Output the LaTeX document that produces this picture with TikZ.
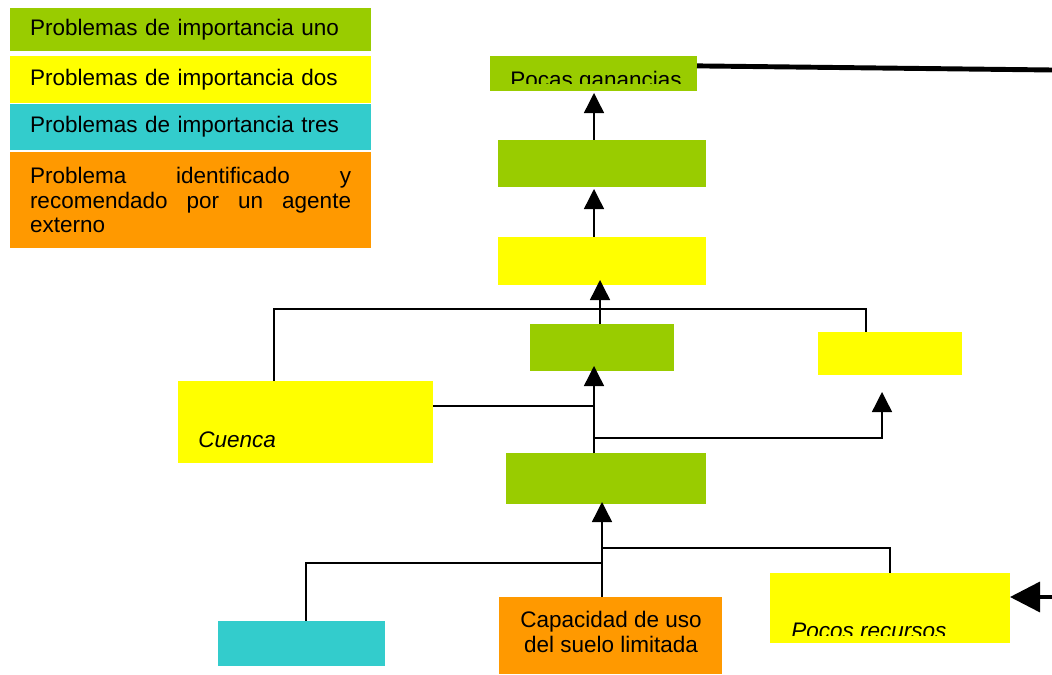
\documentclass[tikz,border=0pt]{standalone}
\usepackage{fontspec}
\setmainfont{Liberation Sans}
\usetikzlibrary{arrows.meta, fit}
\definecolor{uno}{RGB}{153,204,0}
\definecolor{dos}{RGB}{255,255,0}
\definecolor{tres}{RGB}{51,204,204}
\definecolor{ext}{RGB}{255,153,0}

\begin{document}
\begin{tikzpicture}[x=0.025cm, y=-0.025cm,
  box/.style={inner sep=0pt, outer sep=0pt},
  legend/.style={anchor=north west, inner xsep=0.5cm, inner ysep=0pt, outer sep=0pt, text width=8.025cm, align=left, font=\fontsize{16}{17.5}\selectfont},
  txt/.style={inner sep=0pt, font=\fontsize{16}{17.5}\selectfont},
  link/.style={line width=1pt},
  up/.style={link, -{Triangle[width=0.5cm, length=0.5cm]}},
  heavy/.style={line width=3.5pt}]
\useasboundingbox (0,0) rectangle (1052,675);

% legend
\node[legend, fill=uno, minimum height=1.075cm] (leguno) at (10,8) {Problemas de importancia uno};
\node[legend, fill=dos, minimum height=1.175cm] (legdos) at (10,56) {Problemas de importancia dos};
\node[legend, fill=tres, minimum height=1.15cm] (legtres) at (10,104) {Problemas de importancia tres};
\node[legend, fill=ext, minimum height=2.4cm] (legext) at (10,152) {Problema\hfill identificado\hfill y\\recomendado\hfill por\hfill un\hfill agente\\externo};

% problem boxes
\node[box, fill=uno, fit={(490,56) (697,91)}] (ganancias) {};
\node[box, fill=uno, fit={(498,140) (706,187)}] (g2) {};
\node[box, fill=dos, fit={(498,237) (706,285)}] (y3) {};
\node[box, fill=uno, fit={(530,324) (674,371)}] (g4) {};
\node[box, fill=dos, fit={(818,332) (962,375)}] (yright) {};
\node[box, fill=dos, fit={(178,381) (433,463)}] (cuenca) {};
\node[box, fill=uno, fit={(506,453) (706,504)}] (g5) {};
\node[box, fill=tres, fit={(218,621) (385,666)}] (teal) {};
\node[box, fill=ext, fit={(499,597) (722,674)}] (capacidad) {};
\node[box, fill=dos, fit={(770,573) (1010,643)}] (recursos) {};

\begin{scope}
\clip (490,56) rectangle (697,84);
\node[txt, anchor=base west] (gtexto) at (510,88) {Pocas ganancias};
\end{scope}
\node[txt, anchor=base west, font=\fontsize{16}{17.5}\selectfont\itshape] (ctexto) at (198,447) {Cuenca};
\node[txt, align=center] (ktexto) at (611,632) {Capacidad de uso\\del suelo limitada};
\begin{scope}
\clip (770,573) rectangle (1010,635);
\node[txt, anchor=base west, font=\fontsize{16}{17.5}\selectfont\itshape] (rtexto) at (791,638) {Pocos recursos};
\end{scope}

% connectors
\coordinate (va) at (594,0);
\coordinate (vb) at (600,0);
\coordinate (vc) at (602,0);
\coordinate (cl) at (274,309);
\coordinate (cr) at (866,309);
\coordinate (jc) at (594,406);
\coordinate (rb) at (882,438);
\coordinate (br) at (890,548);
\coordinate (bl) at (306,563);
\coordinate (gout) at (1052,70);
\coordinate (rin) at (1052,597);

\draw[up, shorten >=0.05cm] (g2.north -| va) -- (ganancias.south -| va);
\draw[up, shorten >=0.05cm] (y3.north -| va) -- (g2.south -| va);
\draw[up, shorten >=-0.125cm] (g4.north -| vb) -- (y3.south -| vb);
\draw[up, shorten >=-0.125cm] (g5.north -| va) -- (g4.south -| va);
\draw[up, shorten >=-0.05cm] (capacidad.north -| vc) -- (g5.south -| vc);

\draw[link] (cuenca.north -| cl) -- (cl) -- (cr) -- (yright.north -| cr);
\draw[link] (cuenca.east |- jc) -- (jc);
\draw[up, shorten >=0.425cm] (rb -| va) -- (rb) -- (yright.south -| rb);
\draw[link] (br -| vc) -- (br) -- (recursos.north -| br);
\draw[link] (bl -| vc) -- (bl) -- (teal.north -| bl);

\draw[heavy] ([yshift=0.19cm]ganancias.east) -- (gout);
\draw[line width=2.5pt, -{Triangle[width=0.75cm, length=0.75cm]}] (rin) -- (recursos.east |- rin);
\end{tikzpicture}
\end{document}
